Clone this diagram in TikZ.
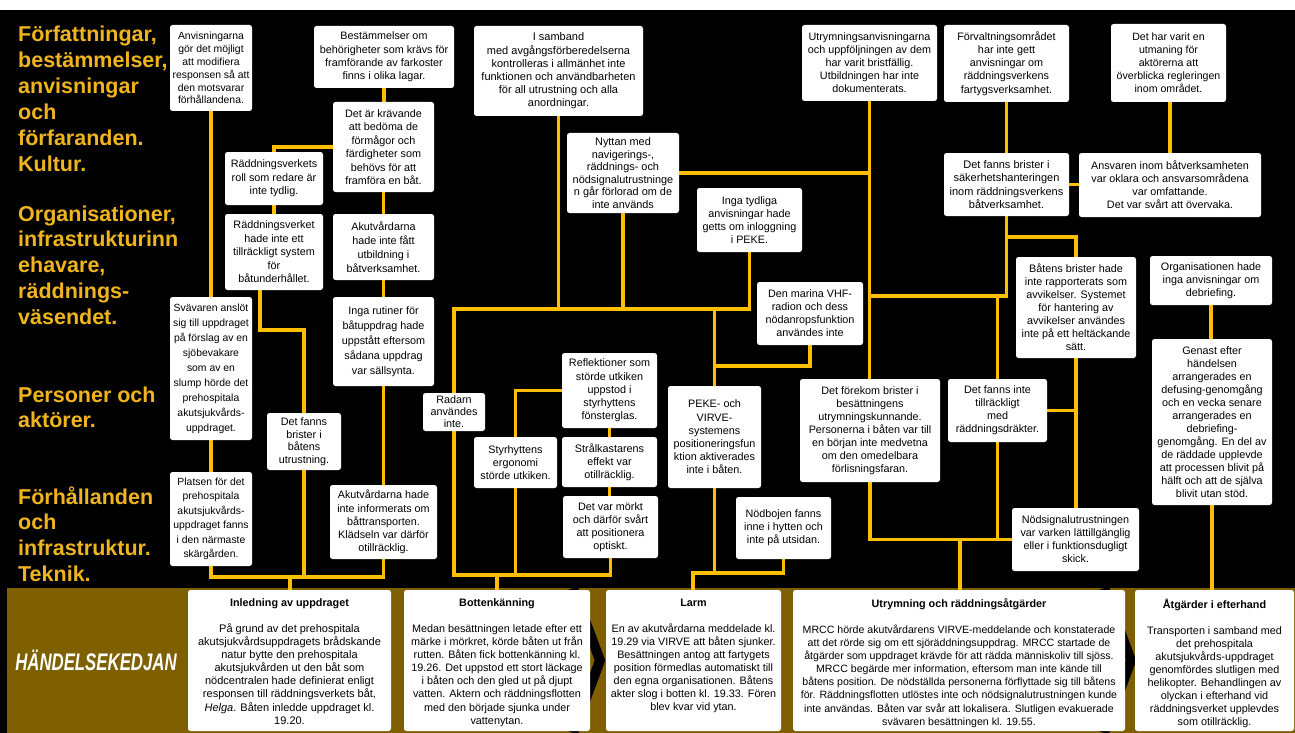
\documentclass[tikz,border=0pt]{standalone}
\usepackage{fontspec}
\usepackage{graphicx}
\setmainfont{Liberation Sans}
\usetikzlibrary{calc}
\definecolor{gold}{RGB}{255,190,0}
\definecolor{lab}{RGB}{240,180,30}
\definecolor{band}{RGB}{127,96,0}
\pgfdeclarelayer{bgl}\pgfdeclarelayer{lnl}\pgfsetlayers{bgl,lnl,main}
\newcommand\bx[8]{%
 \pgfmathsetmacro\myw{#4-#2}\pgfmathsetmacro\myh{#5-#3}%
 \pgfmathsetmacro\mycx{(#2+#4)/2}\pgfmathsetmacro\mycy{(#3+#5)/2}%
 \node[box,minimum width=\myw pt,minimum height=\myh pt,font=\fontsize{#6}{#7}\selectfont] (#1) at (\mycx,\mycy) {#8};}
\newcommand\bb[8]{%
 \pgfmathsetmacro\myw{#4-#2}\pgfmathsetmacro\myh{#5-#3}%
 \pgfmathsetmacro\mycx{(#2+#4)/2}\pgfmathsetmacro\mycy{(#3+#5)/2}%
 \node[box,minimum width=\myw pt,minimum height=\myh pt] (#1) at (\mycx,\mycy) {};
 \node[anchor=north,inner sep=0pt,align=center,font=\fontsize{#6}{13.1}\selectfont] (#1t) at ($(#1.north)+(0,9)$) {{\fontsize{10.8}{13.1}\selectfont\bfseries #7}\\[12.5pt]#8};}
\begin{document}
\begin{tikzpicture}[x=1pt,y=-1pt,
 box/.style={fill=white,rounded corners=2.5pt,inner sep=0pt,align=center,text=black},
 conn/.style={draw=gold,line width=3.6pt},
 lbl/.style={anchor=base west,inner sep=0pt,text=lab,font=\fontsize{21.5}{25.8}\selectfont\bfseries}]
\useasboundingbox (0,0) rectangle (1295,733);
% left labels
\node[lbl] (l1) at (18,42) {Författningar,};
\node[lbl] (l2) at (18,67.8) {bestämmelser,};
\node[lbl] (l3) at (18,93.6) {anvisningar};
\node[lbl] (l4) at (18,119.4) {och};
\node[lbl] (l5) at (18,145.2) {förfaranden.};
\node[lbl] (l6) at (18,171) {Kultur.};
\node[lbl] (l7) at (18,221) {Organisationer,};
\node[lbl] (l8) at (18,246.8) {infrastrukturinn};
\node[lbl] (l9) at (18,272.6) {ehavare,};
\node[lbl] (l10) at (18,298.4) {räddnings-};
\node[lbl] (l11) at (18,324.2) {väsendet.};
\node[lbl] (l12) at (18,402) {Personer och};
\node[lbl] (l13) at (18,427.8) {aktörer.};
\node[lbl] (l14) at (18,504) {Förhållanden};
\node[lbl] (l15) at (18,529.8) {och};
\node[lbl] (l16) at (18,555.6) {infrastruktur.};
\node[lbl] (l17) at (18,581.4) {Teknik.};
% upper boxes
\bx{b1}{170}{25}{252}{111}{10.4}{12.9}{Anvisningarna\\gör det möjligt\\att modifiera\\responsen så att\\den motsvarar\\förhållandena.}
\bx{bes}{314}{26}{454}{88}{10.8}{13.2}{Bestämmelser om\\behörigheter som krävs för\\framförande av farkoster\\finns i olika lagar.}
\bx{kra}{333}{102}{434}{192}{10.8}{13.5}{Det är krävande\\att bedöma de\\förmågor och\\färdigheter som\\behövs för att\\framföra en båt.}
\bx{rroll}{225}{152}{323}{205}{10.8}{13.5}{Räddningsverkets\\roll som redare är\\inte tydlig.}
\bx{rhade}{225}{214}{323}{290}{10.8}{13.5}{Räddningsverket\\hade inte ett\\tillräckligt system\\för\\båtunderhållet.}
\bx{akf}{333}{214}{434}{280}{10.8}{14}{Akutvårdarna\\hade inte fått\\utbildning i\\båtverksamhet.}
\bx{rut}{333}{297}{434}{386}{10.8}{15}{Inga rutiner för\\båtuppdrag hade\\uppstått eftersom\\sådana uppdrag\\var sällsynta.}
\bx{sva}{170}{297}{252}{440}{10.4}{15}{Svävaren anslöt\\sig till uppdraget\\på förslag av en\\sjöbevakare\\som av en\\slump hörde det\\prehospitala\\akutsjukvårds-\\uppdraget.}
\bx{utr}{267}{413}{341}{470}{10.8}{12.5}{Det fanns\\brister i\\båtens\\utrustning.}
\bx{pla}{170}{472}{252}{566}{10.4}{14.5}{Platsen för det\\prehospitala\\akutsjukvårds-\\uppdraget fanns\\i den närmaste\\skärgården.}
\bx{aki}{330}{485}{437}{559}{10.8}{13.2}{Akutvårdarna hade\\inte informerats om\\båttransporten.\\Klädseln var därför\\otillräcklig.}
\bx{rad}{423}{393}{485}{431}{10.8}{12}{Radarn\\användes\\inte.}
\bx{isa}{474}{26}{643}{116}{11}{13.2}{I samband\\med avgångsförberedelserna\\kontrolleras i allmänhet inte\\funktionen och användbarheten\\för all utrustning och alla\\anordningar.}
\bx{nyt}{567}{133}{679}{213}{10.9}{12.5}{Nyttan med\\navigerings-,\\räddnings- och\\nödsignalutrustninge\\n går förlorad om de\\inte används}
\bx{ref}{562}{353}{657}{428}{10.8}{13.2}{Reflektioner som\\störde utkiken\\uppstod i\\styrhyttens\\fönsterglas.}
\bx{sty}{474}{437}{557}{488}{10.8}{13}{Styrhyttens\\ergonomi\\störde utkiken.}
\bx{str}{562}{437}{657}{487}{10.8}{13}{Strålkastarens\\effekt var\\otillräcklig.}
\bx{mor}{563}{496}{658}{558}{10.8}{13}{Det var mörkt\\och därför svårt\\att positionera\\optiskt.}
\bx{ity}{697}{188}{802}{252}{10.8}{13}{Inga tydliga\\anvisningar hade\\getts om inloggning\\i PEKE.}
\bx{vhf}{757}{282}{863}{345}{10.8}{13}{Den marina VHF-\\radion och dess\\nödanropsfunktion\\användes inte}
\bx{pek}{668}{386}{761}{488}{10.8}{13.2}{PEKE- och\\VIRVE-\\systemens\\positioneringsfun\\ktion aktiverades\\inte i båten.}
\bx{nod}{736}{497}{831}{559}{10.8}{13}{Nödbojen fanns\\inne i hytten och\\inte på utsidan.}
\bx{uan}{802}{25}{937}{101}{10.8}{13}{Utrymningsanvisningarna\\och uppföljningen av dem\\har varit bristfällig.\\Utbildningen har inte\\dokumenterats.}
\bx{ffb}{800}{379}{940}{482}{10.8}{13}{Det förekom brister i\\besättningens\\utrymningskunnande.\\Personerna i båten var till\\en början inte medvetna\\om den omedelbara\\förlisningsfaran.}
\bx{fvo}{944}{25}{1069}{102}{10.8}{13.2}{Förvaltningsområdet\\har inte gett\\anvisningar om\\räddningsverkens\\fartygsverksamhet.}
\bx{utm}{1111}{24}{1226}{102}{10.6}{13}{Det har varit en\\utmaning för\\aktörerna att\\överblicka regleringen\\inom området.}
\bx{sak}{944}{153}{1069}{216}{11}{13.5}{Det fanns brister i\\säkerhetshanteringen\\inom räddningsverkens\\båtverksamhet.}
\bx{ans}{1079}{153}{1261}{217}{10.8}{13}{Ansvaren inom båtverksamheten\\var oklara och ansvarsområdena\\var omfattande.\\Det var svårt att övervaka.}
\bx{bbr}{1016}{257}{1136}{358}{10.8}{13}{Båtens brister hade\\inte rapporterats som\\avvikelser. Systemet\\för hantering av\\avvikelser användes\\inte på ett heltäckande\\sätt.}
\bx{org}{1150}{256}{1272}{305}{10.8}{13}{Organisationen hade\\inga anvisningar om\\debriefing.}
\bx{dfi}{948}{379}{1047}{442}{10.8}{13}{Det fanns inte\\tillräckligt\\med\\räddningsdräkter.}
\bx{gen}{1152}{339}{1272}{505}{10.8}{13}{Genast efter\\händelsen\\arrangerades en\\defusing-genomgång\\och en vecka senare\\arrangerades en\\debriefing-\\genomgång. En del av\\de räddade upplevde\\att processen blivit på\\hälft och att de själva\\blivit utan stöd.}
\bx{nds}{1012}{508}{1139}{571}{10.8}{13}{Nödsignalutrustningen\\var varken lättillgänglig\\eller i funktionsdugligt\\skick.}
% bottom boxes
\bb{inl}{188}{590}{391}{731}{11}{Inledning av uppdraget}{På grund av det prehospitala\\akutsjukvårdsuppdragets brådskande\\natur bytte den prehospitala\\akutsjukvården ut den båt som\\nödcentralen hade definierat enligt\\responsen till räddningsverkets båt,\\\textit{Helga}. Båten inledde uppdraget kl.\\19.20.}
\bb{bot}{404}{590}{590}{731}{10.8}{Bottenkänning}{Medan besättningen letade efter ett\\märke i mörkret, körde båten ut från\\rutten. Båten fick bottenkänning kl.\\19.26. Det uppstod ett stort läckage\\i båten och den gled ut på djupt\\vatten. Aktern och räddningsflotten\\med den började sjunka under\\vattenytan.}
\bb{lar}{606}{590}{781}{731}{10.8}{Larm}{En av akutvårdarna meddelade kl.\\19.29 via VIRVE att båten sjunker.\\Besättningen antog att fartygets\\position förmedlas automatiskt till\\den egna organisationen. Båtens\\akter slog i botten kl. 19.33. Fören\\blev kvar vid ytan.}
\bb{utb}{793}{590}{1125}{731}{10.6}{Utrymning och räddningsåtgärder}{MRCC hörde akutvårdarens VIRVE-meddelande och konstaterade\\att det rörde sig om ett sjöräddningsuppdrag. MRCC startade de\\åtgärder som uppdraget krävde för att rädda människoliv till sjöss.\\MRCC begärde mer information, eftersom man inte kände till\\båtens position. De nödställda personerna förflyttade sig till båtens\\för. Räddningsflotten utlöstes inte och nödsignalutrustningen kunde\\inte användas. Båten var svår att lokalisera. Slutligen evakuerade\\svävaren besättningen kl. 19.55.}
\bb{atg}{1135}{590}{1294}{731}{10.8}{Åtgärder i efterhand}{Transporten i samband med\\det prehospitala\\akutsjukvårds-uppdraget\\genomfördes slutligen med\\helikopter. Behandlingen av\\olyckan i efterhand vid\\räddningsverket upplevdes\\som otillräcklig.}
\node[inner sep=0pt,text=white,font=\fontsize{24}{24}\selectfont\bfseries\itshape] (hk) at (96,660) {\scalebox{0.7}[1]{HÄNDELSEKEDJAN}};
% background
\begin{pgfonlayer}{bgl}
\fill[white] (0,0) rectangle (1295,733);
\fill[black] (0,10) rectangle (1295,733);
\fill[band] (7,588) rectangle (1295,733);
\draw[black,line width=10pt] (573,588) -- (600,660.5) -- (573,733);
\draw[black,line width=10pt] (1104,588) -- (1131,660.5) -- (1104,733);
\end{pgfonlayer}
% connectors
\begin{pgfonlayer}{lnl}
\coordinate (jL) at (290,577);
\draw[conn] (b1.south) -- (sva.north);
\draw[conn] (sva.south) -- (pla.north);
\draw[conn] (pla.south) -- (pla.south |- jL) -- (aki.south |- jL) -- (aki.south);
\draw[conn] (utr.south) -- (utr.south |- jL);
\draw[conn] (jL) -- (jL |- inl.north);
\draw[conn] (rroll.north) |- (kra.west);
\draw[conn] (rroll.south) -- (rroll.south |- rhade.north);
\draw[conn] ($(rhade.south)+(-14,0)$) -- ++(0,40) -| (utr.north);
\draw[conn] (bes.south) -- (bes.south |- kra.north);
\draw[conn] (kra.south) -- (kra.south |- akf.north);
\draw[conn] (akf.south) -- (akf.south |- rut.north);
\draw[conn] (rut.south) -- (rut.south |- aki.north);
\coordinate (jM) at (454,309);
\coordinate (jB) at (454,575);
\draw[conn] (isa.south) -- (isa.south |- jM);
\draw[conn] (nyt.south) -- (nyt.south |- jM);
\draw[conn] (ity.south) |- (jM) -- (rad.north);
\draw[conn] (rad.south) -- (jB) -| (mor.south);
\draw[conn] (sty.south) -- (sty.south |- jB);
\draw[conn] (ref.west) -| (sty.north);
\draw[conn] (ref.south) -- (ref.south |- str.north);
\draw[conn] (str.south) -- (str.south |- mor.north);
\coordinate (sB) at (497,575);
\draw[conn] (sB) -- (sB |- bot.north);
\draw[conn] (pek.north) -- (pek.north |- jM);
\draw[conn] (vhf.south) |- ($(pek.north)+(0,-20)$);
\coordinate (jP) at (693,573);
\draw[conn] (pek.south) -- (pek.south |- jP);
\draw[conn] (nod.south) |- (jP) -- (jP |- lar.north);
\draw[conn] (nyt.east) -| (uan.south);
\draw[conn] (uan.south) -- (uan.south |- ffb.north);
\coordinate (jR) at (1006.5,296);
\draw[conn] (fvo.south) -- (sak.north);
\draw[conn] (sak.south) -- (jR) -- (jR -| uan.south);
\draw[conn] (sak.south) -- ++(0,21) -| (bbr.north);
\draw[conn] (dfi.north) -- (dfi.north |- jR);
\draw[conn] (sak.east) -- (sak.east -| ans.west);
\draw[conn] (ans.north) -- (ans.north |- utm.south);
\draw[conn] (bbr.south) -- (bbr.south |- nds.north);
\draw[conn] (dfi.east) -- (dfi.east -| bbr.south);
\draw[conn] (ffb.south) |- (nds.west);
\draw[conn] (dfi.south) -- (dfi.south |- nds.west);
\coordinate (sU) at (960,539.5);
\draw[conn] (sU) -- (sU |- utb.north);
\draw[conn] (org.south) -- (org.south |- gen.north);
\draw[conn] (gen.south) -- (gen.south |- atg.north);
\end{pgfonlayer}
\end{tikzpicture}
\end{document}
